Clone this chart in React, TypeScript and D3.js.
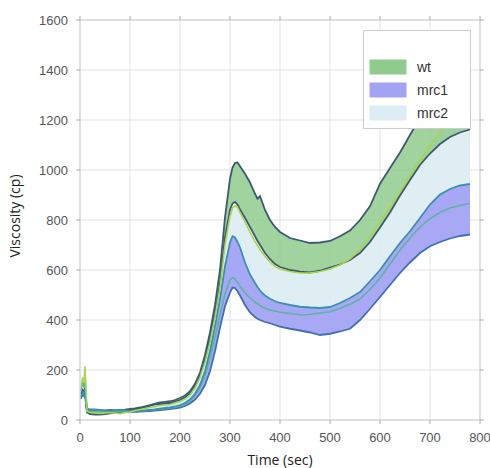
import React from "react";
import * as d3 from "d3";

// time grid (sec)
const T = [2, 5, 8, 10, 12, 14,
  20, 30, 40, 50, 60, 70, 80, 90, 100, 110, 120, 130, 140, 150, 160, 170, 180, 190, 200, 210, 220, 230,
  240, 250, 260, 270, 280, 290, 300,
  305, 310, 315, 320,
  330, 340, 350,
  355, 360, 365, 370,
  380, 390, 400,
  420, 440, 460, 480, 500, 520, 540, 560, 580, 600, 620, 640, 660, 680, 700, 720, 740, 760, 780];

// wt band
const wtHi = [105, 120, 110, 130, 80, 45,
  42, 40, 38, 37, 40, 38, 40, 41, 44, 46, 50, 55, 60, 66, 70, 72, 75, 80, 88, 98, 115, 145,
  190, 260, 350, 460, 600, 810, 965,
  1010, 1028, 1030, 1015,
  985, 950, 905,
  885, 895, 868, 840,
  800, 772, 752,
  728, 718, 708, 710, 716, 735, 758, 800, 855, 945, 1008, 1070, 1140, 1208, 1268, 1318, 1358, 1388, 1408];
const wtLo = [95, 105, 100, 115, 70, 30,
  24, 22, 22, 24, 27, 30, 30, 33, 36, 40, 44, 50, 56, 62, 64, 66, 68, 74, 80, 90, 106, 135,
  178, 240, 325, 425, 545, 730, 840,
  866, 872, 862, 842,
  808, 772, 735,
  716, 700, 684, 668,
  643, 624, 612,
  600, 593, 590, 597, 610, 622, 640, 668, 712, 770, 830, 898, 960, 1020, 1066, 1104, 1132, 1150, 1162];

// mrc2 band
const mrc2Hi = [130, 170, 150, 215, 120, 35,
  30, 28, 26, 28, 30, 28, 25, 30, 32, 38, 42, 46, 50, 54, 58, 60, 62, 68, 74, 84, 100, 128,
  170, 230, 310, 410, 530, 700, 815,
  848, 858, 852, 830,
  792, 752, 714,
  698, 682, 668, 655,
  632, 614, 604,
  594, 588, 588, 594, 604, 620, 645, 682, 732, 792, 852, 912, 975, 1040, 1095, 1150, 1200, 1252, 1300];
const mrc2Lo = [115, 150, 130, 180, 100, 36,
  35, 36, 35, 34, 32, 33, 35, 34, 33, 34, 35, 37, 39, 41, 44, 46, 48, 51, 56, 63, 76, 98,
  128, 175, 245, 330, 420, 505, 560,
  570, 565, 550, 535,
  508, 488, 472,
  465, 458, 452, 447,
  440, 436, 432,
  426, 421, 422, 428, 433, 446, 463, 484, 522, 568, 624, 680, 728, 772, 805, 830, 848, 858, 866];

// mrc1 band
const mrc1Hi = [90, 110, 100, 120, 70, 40,
  40, 42, 40, 38, 36, 38, 40, 38, 36, 35, 36, 38, 40, 42, 45, 48, 50, 54, 60, 68, 82, 105,
  140, 195, 275, 375, 485, 615, 710,
  735, 730, 712, 690,
  630, 582, 548,
  532, 518, 507, 498,
  485, 475, 468,
  460, 453, 450, 448, 452, 468, 488, 512, 555, 600, 655, 708, 755, 808, 862, 902, 924, 938, 944];
const mrc1Lo = [85, 100, 95, 110, 65, 35,
  34, 35, 36, 35, 33, 32, 33, 34, 32, 33, 34, 35, 36, 38, 40, 42, 44, 47, 50, 56, 66, 82,
  105, 140, 195, 275, 370, 455, 510,
  530, 528, 515, 498,
  460, 430, 412,
  405, 400, 396, 392,
  387, 380, 373,
  365, 358, 350, 340, 345, 354, 365, 400, 445, 492, 540, 588, 630, 668, 695, 712, 726, 736, 742];

const xTicks = [0, 100, 200, 300, 400, 500, 600, 700, 800];
const yTicks = [0, 200, 400, 600, 800, 1000, 1200, 1400, 1600];
const legendLabels = ["wt", "mrc1", "mrc2"];

export default function App() {
  const W = 490, H = 468;
  const x = d3.scaleLinear().domain([0, 800]).range([80, 480]);
  const y = d3.scaleLinear().domain([0, 1600]).range([420, 20]);

  const area = (lo: number[], hi: number[]) =>
    d3.area<number>()
      .x((t) => x(t))
      .y0((_, i) => y(lo[i]))
      .y1((_, i) => y(hi[i]))(T) as string;
  const line = (v: number[]) =>
    d3.line<number>().x((t) => x(t)).y((_, i) => y(v[i]))(T) as string;

  const greenFill = "#8fcb8c";
  const purpleFill = "#a3a3f4";
  const blueFill = "#dbecf2";
  const legendColors = [greenFill, purpleFill, blueFill];

  const tickFont = "'Liberation Sans', Arial, sans-serif";
  const titleFont = "'Open Sans', 'Noto Sans', sans-serif";

  return (
    <svg width={W} height={H} style={{ position: "absolute", left: 0, top: 0, background: "#fff" }}>
      <rect x={0} y={0} width={W} height={H} fill="#fff" />
      {/* grid */}
      {xTicks.map((t) => (
        <line key={"gx" + t} x1={x(t)} x2={x(t)} y1={20} y2={420} stroke="#e3e3e3" strokeWidth={1} />
      ))}
      {yTicks.map((t) => (
        <line key={"gy" + t} x1={80} x2={480} y1={y(t)} y2={y(t)} stroke="#e3e3e3" strokeWidth={1} />
      ))}
      {/* bands */}
      <path d={area(mrc2Lo, mrc2Hi)} fill={blueFill} fillOpacity={0.9} />
      <path d={area(wtLo, wtHi)} fill={greenFill} fillOpacity={0.85} />
      <path d={area(mrc1Lo, mrc1Hi)} fill={purpleFill} fillOpacity={0.95} />
      {/* lines */}
      <path d={line(wtLo)} fill="none" stroke="#3d5a72" strokeWidth={1.8} />
      <path d={line(wtHi)} fill="none" stroke="#3d5a72" strokeWidth={1.8} />
      <path d={line(mrc1Lo)} fill="none" stroke="#3f70b6" strokeWidth={1.8} />
      <path d={line(mrc2Lo)} fill="none" stroke="#5fb3a6" strokeWidth={1.6} />
      <path d={line(mrc1Hi)} fill="none" stroke="#3b90b0" strokeWidth={1.8} />
      <path d={line(mrc2Hi)} fill="none" stroke="#a6d64c" strokeWidth={1.6} />
      {/* spines */}
      <rect x={80} y={20} width={400} height={400} fill="none" stroke="#cfcfcf" strokeWidth={1} />
      {/* ticks */}
      {xTicks.map((t) => (
        <g key={"tx" + t}>
          <line x1={x(t)} x2={x(t)} y1={420} y2={424} stroke="#aaa" />
          <line x1={x(t)} x2={x(t)} y1={16} y2={20} stroke="#aaa" />
          <text x={x(t)} y={442} textAnchor="middle" fontSize={13} fill="#555" fontFamily={tickFont}>{t}</text>
        </g>
      ))}
      {yTicks.map((t) => (
        <g key={"ty" + t}>
          <line x1={76} x2={80} y1={y(t)} y2={y(t)} stroke="#aaa" />
          <line x1={480} x2={484} y1={y(t)} y2={y(t)} stroke="#aaa" />
          <text x={68} y={y(t) + 4.5} textAnchor="end" fontSize={13} fill="#555" fontFamily={tickFont}>{t}</text>
        </g>
      ))}
      {/* axis titles */}
      <text x={280} y={465} textAnchor="middle" fontSize={14} fill="#222" fontFamily={titleFont}>Time (sec)</text>
      <text transform="translate(20,216) rotate(-90)" textAnchor="middle" fontSize={14} fill="#222" fontFamily={titleFont}>Viscosity (cp)</text>
      {/* legend */}
      <rect x={363.5} y={30.5} width={107} height={98} fill="#fff" stroke="#cccccc" strokeWidth={1} />
      {legendLabels.map((lab, i) => (
        <g key={lab}>
          <rect x={370} y={60 + i * 23} width={36} height={14} fill={legendColors[i]} stroke={legendColors[i]} />
          <text x={417} y={72 + i * 23} fontSize={14} fill="#333" fontFamily={tickFont}>{lab}</text>
        </g>
      ))}
    </svg>
  );
}
